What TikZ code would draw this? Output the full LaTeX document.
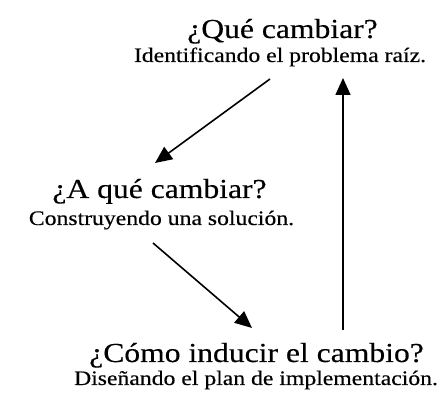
\documentclass[tikz,border=0pt]{standalone}
\usepackage{fontspec}
\setmainfont{Liberation Serif}
\newfontfamily\widefont[FakeStretch=1.15,FakeBold=0.35]{Liberation Serif}
\usetikzlibrary{arrows.meta}
\tikzset{
  ttl/.style={anchor=base, inner sep=0pt, font=\widefont\fontsize{27.5}{31}\selectfont},
  sub/.style={anchor=base, inner sep=0pt, font=\widefont\fontsize{20.6}{24}\selectfont},
  arr/.style={line width=1.6pt, -{Triangle[length=17pt,width=15pt]}}
}
\begin{document}
\begin{tikzpicture}[x=1pt,y=1pt]
\useasboundingbox (0,0) rectangle (437,395);
\node[ttl] (t1) at (282.5,357) {¿Qué cambiar?};
\node[sub] (s1) at (280,333) {Identificando el problema raíz.};
\node[ttl] (t2) at (159.5,197) {¿A qué cambiar?};
\node[sub] (s2) at (161.5,170) {Construyendo una solución.};
\node[ttl] (t3) at (256.5,33) {¿Cómo inducir el cambio?};
\node[sub] (s3) at (256,10) {Diseñando el plan de implementación.};
\coordinate (a1s) at (270,316);
\coordinate (a1e) at (155,232);
\coordinate (a2s) at (153,152);
\coordinate (a2e) at (252,67);
\coordinate (a3s) at (343,65);
\coordinate (a3e) at (343,317);
\draw[arr] (a1s) -- (a1e);
\draw[arr] (a2s) -- (a2e);
\draw[arr] (a3s) -- (a3e);
\end{tikzpicture}
\end{document}
